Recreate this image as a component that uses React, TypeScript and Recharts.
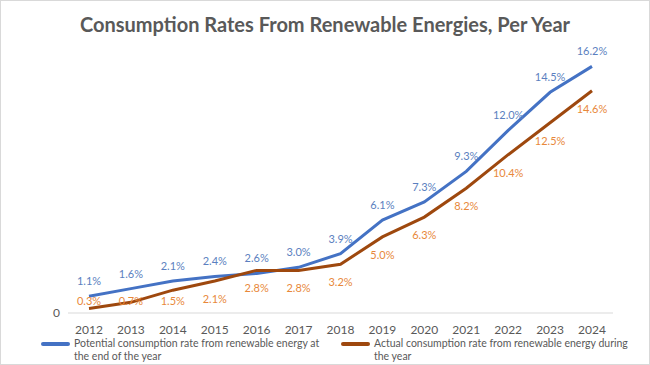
import { LineChart, Line, XAxis, YAxis, LabelList } from 'recharts'

const years = ['2012', '2013', '2014', '2015', '2016', '2017', '2018', '2019', '2020', '2021', '2022', '2023', '2024']
const potential = [1.1, 1.6, 2.1, 2.4, 2.6, 3.0, 3.9, 6.1, 7.3, 9.3, 12.0, 14.5, 16.2]
const actual = [0.3, 0.7, 1.5, 2.1, 2.8, 2.8, 3.2, 5.0, 6.3, 8.2, 10.4, 12.5, 14.6]
const seriesNames = [
    'Potential consumption rate from renewable energy at the end of the year',
    'Actual consumption rate from renewable energy during the year',
]

const data = years.map((year, i) => ({ year, potential: potential[i], actual: actual[i] }))

const FONT = 'Lato, "Open Sans", sans-serif'
const pct = (v: any) => `${Number(v).toFixed(1)}%`

const legendItems = [
    { name: seriesNames[0], color: '#4472C4', left: 40 },
    { name: seriesNames[1], color: '#9E480E', left: 340 },
]

// orange labels sit under the line, but are lifted a bit when they'd hit the axis
const ActualLabel = (props: any) => {
    const { x, y, value } = props
    const ty = Math.min(y + 22, 304)
    return (
        <text x={x} y={ty} textAnchor="middle" fill="#E8883A" fontSize={11} fontFamily={FONT}>
            {pct(value)}
        </text>
    )
}

export default function App() {
    return (
        <div style={{
            position: 'absolute', left: 0, top: 0, width: 650, height: 365,
            background: '#fff', boxSizing: 'border-box', border: '1px solid #d9d9d9',
        }}>
            <div style={{
                position: 'absolute', top: 11, width: '100%', textAlign: 'center',
                fontFamily: FONT, fontWeight: 700, fontSize: 20, color: '#595959',
            }}>
                Consumption Rates From Renewable Energies, Per Year
            </div>
            <LineChart width={648} height={363} data={data} margin={{ top: 38, right: 36, bottom: 21, left: 0 }}>
                <XAxis
                    dataKey="year"
                    padding={{ left: 21, right: 21 }}
                    stroke="#d9d9d9"
                    tickLine={false}
                    tick={{ fill: '#595959', fontSize: 12, fontFamily: FONT }}
                    tickMargin={6}
                />
                <YAxis
                    domain={[0, 18]}
                    ticks={[0]}
                    width={67}
                    axisLine={false}
                    tickLine={false}
                    tick={{ fill: '#595959', fontSize: 12, fontFamily: FONT }}
                />
                <Line
                    dataKey="potential"
                    name={seriesNames[0]}
                    stroke="#4472C4"
                    strokeWidth={3}
                    dot={false}
                    isAnimationActive={false}
                >
                    <LabelList dataKey="potential" position="top" offset={11} formatter={pct}
                        style={{ fill: '#5B7FC0', fontSize: 11, fontFamily: FONT }} />
                </Line>
                <Line
                    dataKey="actual"
                    name={seriesNames[1]}
                    stroke="#9E480E"
                    strokeWidth={3}
                    dot={false}
                    isAnimationActive={false}
                >
                    <LabelList dataKey="actual" content={<ActualLabel />} />
                </Line>
            </LineChart>
            <div style={{ position: 'absolute', left: 0, top: 336, width: 648, height: 28, fontFamily: FONT, fontSize: 10.5, color: '#595959' }}>
                {legendItems.map((it) => (
                    <div key={it.name} style={{ position: 'absolute', left: it.left, top: 0, display: 'flex', width: 300 }}>
                        <div style={{ width: 29, height: 4, background: it.color, borderRadius: 2, marginTop: 5, marginRight: 4, flexShrink: 0 }} />
                        <div style={{ lineHeight: '13px', width: 262 }}>{it.name}</div>
                    </div>
                ))}
            </div>
        </div>
    )
}
